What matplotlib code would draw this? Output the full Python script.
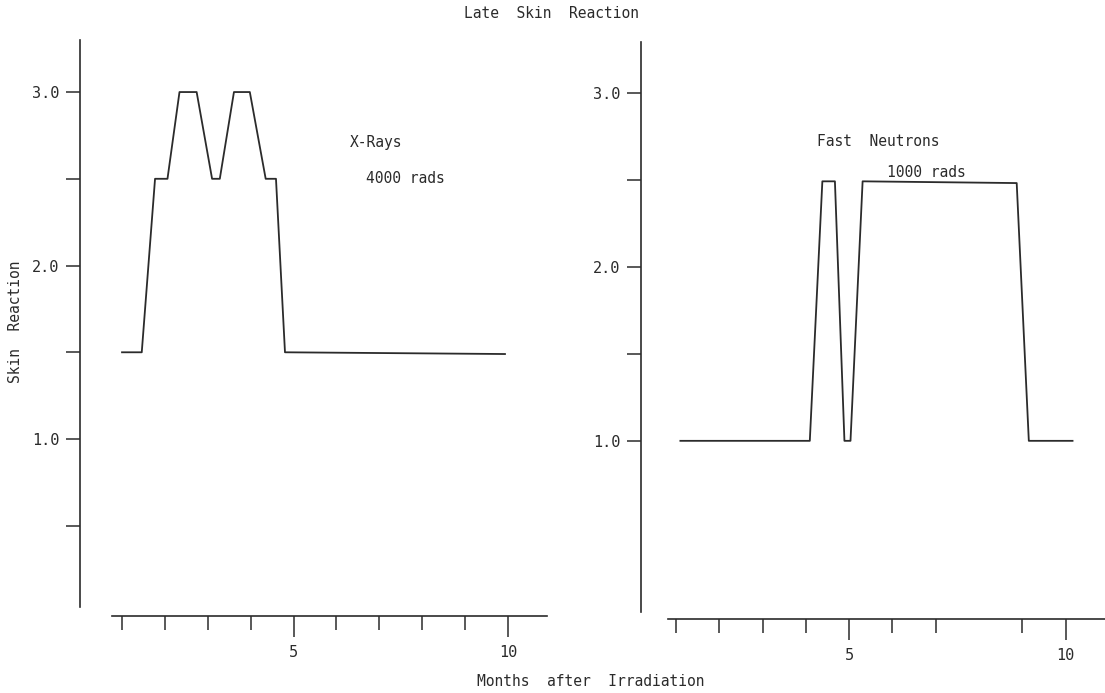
import matplotlib.pyplot as plt

# Months after irradiation / skin reaction score
xray_months = [1.0, 1.46, 1.77, 2.06, 2.34, 2.74, 3.10, 3.28, 3.61, 3.98, 4.35, 4.59, 4.80, 9.93]
xray_score = [1.5, 1.5, 2.5, 2.5, 3.0, 3.0, 2.5, 2.5, 3.0, 3.0, 2.5, 2.5, 1.5, 1.49]

neutron_months = [1.1, 4.09, 4.38, 4.67, 4.89, 5.03, 5.31, 8.87, 9.15, 10.16]
neutron_score = [1.0, 1.0, 2.49, 2.49, 1.0, 1.0, 2.49, 2.48, 1.0, 1.0]

x_major = [5, 10]
x_minor_left = [1, 2, 3, 4, 6, 7, 8, 9]
x_minor_right = [1, 2, 3, 4, 6, 7, 9]
y_major = [1.0, 2.0, 3.0]
y_labels = ['1.0', '2.0', '3.0']
y_minor_left = [0.5, 1.5, 2.5]
y_minor_right = [1.5, 2.5]

ink = '#2b2b2b'
plt.rcParams['font.family'] = ['DejaVu Sans Mono']

W, H = 1105, 693
fig = plt.figure(figsize=(W / 100, H / 100), dpi=100)


def make_axes(left, right, bottom, top, xlim, ylim, xbound, ybound, xminor, yminor):
    ax = fig.add_axes([left / W, (H - bottom) / H, (right - left) / W, (bottom - top) / H])
    ax.set_xlim(*xlim)
    ax.set_ylim(*ylim)
    ax.patch.set_alpha(0)
    for s in ['top', 'right']:
        ax.spines[s].set_visible(False)
    ax.spines['left'].set_bounds(*ybound)
    ax.spines['bottom'].set_bounds(*xbound)
    for s in ['left', 'bottom']:
        ax.spines[s].set_color(ink)
        ax.spines[s].set_linewidth(1.2)
    ax.set_xticks(x_major)
    ax.set_xticklabels(['5', '10'])
    ax.set_xticks(xminor, minor=True)
    ax.set_yticks(y_major)
    ax.set_yticklabels(y_labels)
    ax.set_yticks(yminor, minor=True)
    ax.tick_params(axis='x', which='major', length=15, width=1.1, color=ink,
                   labelsize=11, pad=6, labelcolor=ink)
    ax.tick_params(axis='x', which='minor', length=10, width=1.1, color=ink)
    ax.tick_params(axis='y', which='both', length=10, width=1.1, color=ink,
                   labelsize=11, pad=5, labelcolor=ink)
    return ax


# Left panel: X-Rays
ax1 = make_axes(80, 547, 616, 40, (0.02, 10.91), (-0.02, 3.30),
                (0.77, 10.91), (0.03, 3.30), x_minor_left, y_minor_left)
ax1.plot(xray_months, xray_score, color=ink, lw=1.3)
ax1.text(6.31, 2.71, 'X-Rays', fontsize=10.5, color=ink, va='center')
ax1.text(6.69, 2.50, '4000 rads', fontsize=10.5, color=ink, va='center')
ax1.set_ylabel('Skin  Reaction', fontsize=10.5, color=ink)
ax1.yaxis.set_label_coords(-0.122, 0.51)

# Right panel: Fast Neutrons
ax2 = make_axes(641, 1105, 619, 42, (0.19, 10.91), (-0.023, 3.29),
                (0.82, 10.91), (0.017, 3.29), x_minor_right, y_minor_right)
ax2.plot(neutron_months, neutron_score, color=ink, lw=1.3)
ax2.text(4.26, 2.72, 'Fast  Neutrons', fontsize=10.5, color=ink, va='center')
ax2.text(5.87, 2.54, '1000 rads', fontsize=10.5, color=ink, va='center')

fig.text(551 / W, 1 - 14 / H, 'Late  Skin  Reaction', ha='center', va='center',
         fontsize=10.5, color=ink)
fig.text(591 / W, 1 - 681 / H, 'Months  after  Irradiation', ha='center', va='center',
         fontsize=10.5, color=ink)

fig.savefig('out.png', dpi=100)
